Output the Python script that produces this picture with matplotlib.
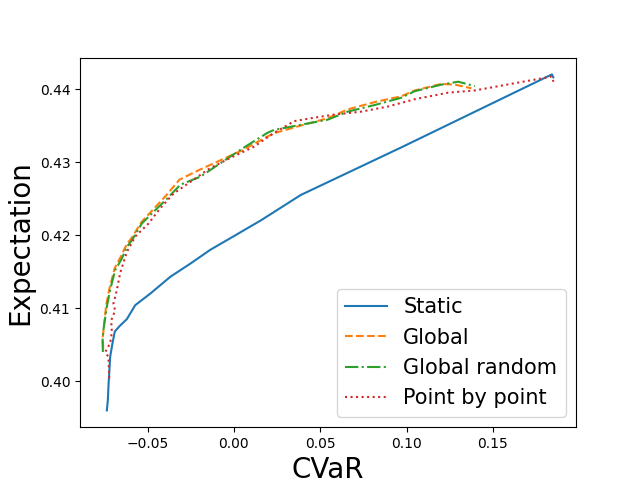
import numpy as np
from matplotlib import pyplot as plt

# Static
static_cvar = [-0.0736, -0.0730, -0.0727, -0.0717, -0.0705, -0.0690, -0.0660, -0.0620,
               -0.0572, -0.0484, -0.0368, -0.0252, -0.0136, 0.0010, 0.0155, 0.0388,
               0.0969, 0.1842, 0.1850]
static_exp = [0.3960, 0.3975, 0.3992, 0.4033, 0.4050, 0.4068, 0.4076, 0.4085,
              0.4104, 0.4120, 0.4143, 0.4161, 0.4180, 0.4200, 0.4220, 0.4255,
              0.4320, 0.4420, 0.4416]

# Global
global_cvar = [-0.0757, -0.0760, -0.0752, -0.0740, -0.0720, -0.0690, -0.0652, -0.0622,
               -0.0593, -0.0535, -0.0468, -0.0390, -0.0315, -0.0194, 0.0039, 0.0194,
               0.0240, 0.0388, 0.0543, 0.0659, 0.0814, 0.0969, 0.1047, 0.1202,
               0.1280, 0.1376]
global_exp = [0.4045, 0.4060, 0.4078, 0.4104, 0.4128, 0.4155, 0.4172, 0.4187,
              0.4196, 0.4218, 0.4235, 0.4255, 0.4276, 0.4290, 0.4315, 0.4335,
              0.4340, 0.4350, 0.4360, 0.4372, 0.4382, 0.4390, 0.4398, 0.4407,
              0.4406, 0.4401]

# Global random
grand_cvar = [-0.0759, -0.0761, -0.0756, -0.0736, -0.0717, -0.0688, -0.0649, -0.0620,
              -0.0591, -0.0533, -0.0465, -0.0387, -0.0310, -0.0194, 0.0039, 0.0194,
              0.0233, 0.0388, 0.0543, 0.0659, 0.0814, 0.0969, 0.1047, 0.1202,
              0.1299, 0.1395]
grand_exp = [0.4040, 0.4055, 0.4070, 0.4102, 0.4125, 0.4152, 0.4168, 0.4184,
             0.4193, 0.4216, 0.4232, 0.4250, 0.4269, 0.4280, 0.4317, 0.4340,
             0.4344, 0.4351, 0.4358, 0.4369, 0.4378, 0.4388, 0.4397, 0.4406,
             0.4410, 0.4404]

# Point by point
pbp_cvar = [-0.0722, -0.0727, -0.0745, -0.0717, -0.0707, -0.0711, -0.0688, -0.0698,
            -0.0678, -0.0659, -0.0620, -0.0572, -0.0494, -0.0426, -0.0349, -0.0233,
            -0.0136, 0.0000, 0.0116, 0.0233, 0.0349, 0.0446, 0.0581, 0.0737,
            0.0892, 0.1047, 0.1241, 0.1395, 0.1628, 0.1841, 0.1851]
pbp_exp = [0.4004, 0.4033, 0.4040, 0.4052, 0.4067, 0.4083, 0.4097, 0.4106,
           0.4125, 0.4148, 0.4177, 0.4198, 0.4216, 0.4237, 0.4257, 0.4276,
           0.4292, 0.4308, 0.4321, 0.4340, 0.4356, 0.4360, 0.4365, 0.4369,
           0.4376, 0.4386, 0.4395, 0.4398, 0.4408, 0.4417, 0.4410]

plt.figure(figsize=(6.4, 4.8), dpi=100)
plt.plot(static_cvar, static_exp, '-', label='Static')
plt.plot(global_cvar, global_exp, '--', label='Global')
plt.plot(grand_cvar, grand_exp, '-.', label='Global random')
plt.plot(pbp_cvar, pbp_exp, ':', label='Point by point')

plt.xlabel('CVaR', fontsize=20)
plt.ylabel('Expectation', fontsize=20)
plt.legend(loc='lower right', fontsize=15)

plt.savefig('out.png')
